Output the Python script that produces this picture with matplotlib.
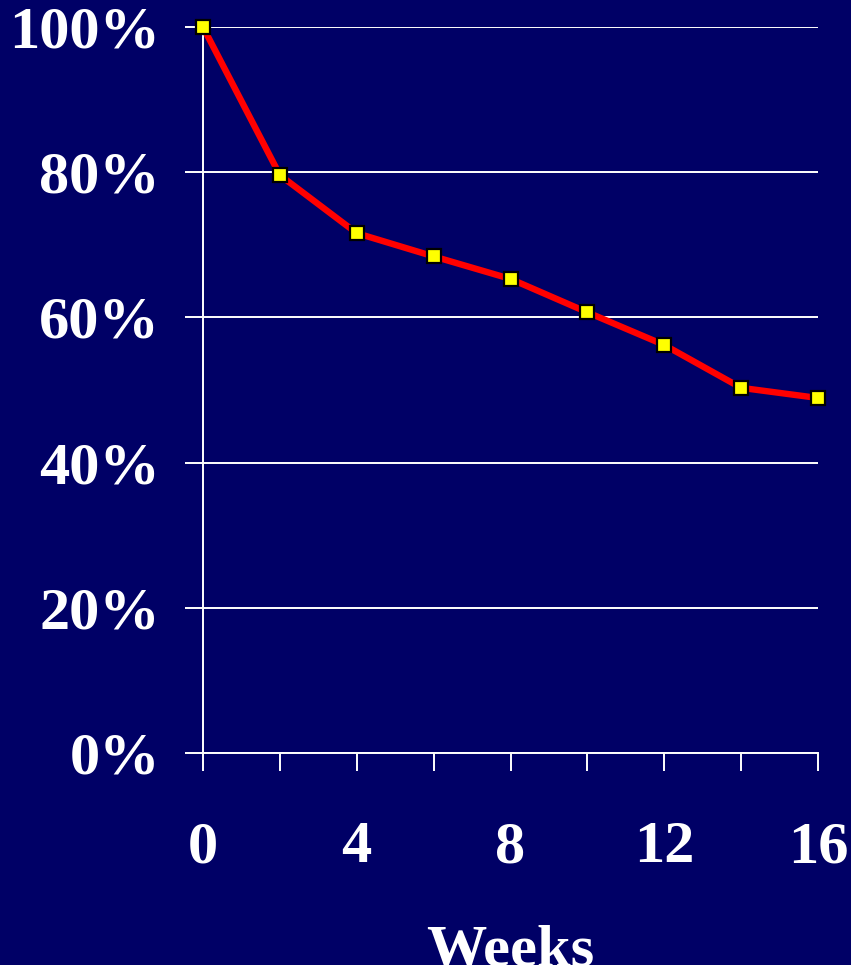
import matplotlib
matplotlib.use("Agg")
import matplotlib.pyplot as plt

weeks = [0, 2, 4, 6, 8, 10, 12, 14, 16]
percent = [100, 79.6, 71.6, 68.4, 65.3, 60.7, 56.2, 50.3, 48.9]
y_ticks = [0, 20, 40, 60, 80, 100]
y_labels = ["0%", "20%", "40%", "60%", "80%", "100%"]
x_ticks = [0, 4, 8, 12, 16]
x_minor = [2, 6, 10, 14]

bg = "#000066"
W, H = 851, 965
fig = plt.figure(figsize=(W / 100, H / 100), dpi=100, facecolor=bg)
ax = fig.add_axes([203 / W, 1 - 753 / H, (818 - 203) / W, (753 - 27) / H], facecolor=bg)

ax.plot(weeks, percent, color="#ff0000", lw=4.6, marker="s", markersize=9.5,
        markerfacecolor="#ffff00", markeredgecolor="black", markeredgewidth=1.6,
        zorder=5, clip_on=False, solid_joinstyle="round")

ax.set_xlim(0, 16)
ax.set_ylim(0, 100)
ax.set_yticks(y_ticks)
ax.set_yticklabels(y_labels)
ax.set_xticks(x_ticks)
ax.set_xticks(x_minor, minor=True)
ax.grid(axis="y", color="white", lw=1.4)
ax.set_axisbelow(True)

for s in ["top", "right"]:
    ax.spines[s].set_visible(False)
for s in ["left", "bottom"]:
    ax.spines[s].set_color("white")
    ax.spines[s].set_linewidth(1.4)

font = dict(family="Liberation Serif", weight="bold", size=43.5)
ax.tick_params(axis="both", which="both", direction="out", color="white",
               width=1.4, length=13, labelcolor="white")
ax.tick_params(axis="y", pad=18)
ax.tick_params(axis="x", pad=36)
for lab in ax.get_yticklabels() + ax.get_xticklabels():
    lab.set_fontfamily("Liberation Serif")
    lab.set_fontweight("bold")
    lab.set_fontsize(43.5)

ax.set_xlabel("Weeks", color="white", labelpad=36, **font)

fig.savefig("out.png", dpi=100, facecolor=bg)
